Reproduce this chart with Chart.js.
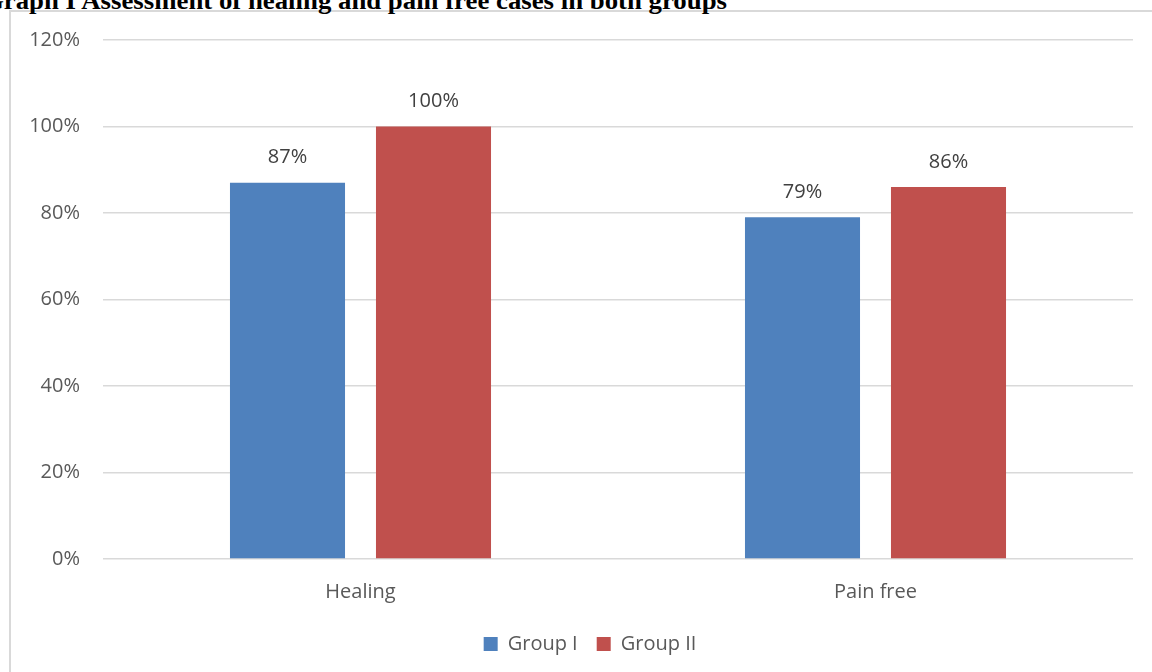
<!DOCTYPE html>
<html>
<head>
<meta charset="utf-8">
<script src="https://cdn.jsdelivr.net/npm/chart.js@4.4.1/dist/chart.umd.min.js"></script>
<style>
  html, body { margin: 0; padding: 0; background: #fff; overflow: hidden; }
  #frame { position: absolute; left: 9px; top: 10px; width: 1200px; height: 700px;
           border-left: 2px solid #d9d9d9; border-top: 2px solid #d9d9d9; }
  #title { position: absolute; left: -17px; top: -14px; white-space: nowrap; line-height: 1;
           font: bold 26px "Liberation Serif", "Times New Roman", serif; color: #000;
           transform-origin: 0 0; }
  #wrap { position: absolute; left: 0; top: 0; width: 1152px; height: 672px; }
</style>
</head>
<body>
<div id="frame"></div>
<div id="title">Graph I Assessment of healing and pain free cases in both groups</div>
<div id="wrap"><canvas id="barChart"></canvas></div>
<script>
// values (percent)
const categories = ['Healing', 'Pain free'];
const seriesNames = ['Group I', 'Group II'];
const groupI = [87, 79];
const groupII = [100, 86];
const yMax = 120;
const yStep = 20;

const FONT = '"Open Sans", sans-serif';

// stretch the title so it spans the same width as in the source
const title = document.getElementById('title');
const tw = title.getBoundingClientRect().width;
title.style.transform = 'scaleX(' + (744 / tw) + ')';

// draws the "87%" style labels above each bar
const barValueLabels = {
    id: 'barValueLabels',
    afterDatasetsDraw(chart) {
        const ctx = chart.ctx;
        ctx.save();
        ctx.font = '20px ' + FONT;
        ctx.fillStyle = '#404040';
        ctx.textAlign = 'center';
        ctx.textBaseline = 'middle';
        chart.data.datasets.forEach((ds, i) => {
            chart.getDatasetMeta(i).data.forEach((bar, j) => {
                ctx.fillText(ds.data[j] + '%', bar.x, bar.y - 25);
            });
        });
        ctx.restore();
    }
};

// legend in the source sits a bit right of the canvas centre
const legendShift = {
    id: 'legendShift',
    afterLayout(chart) {
        chart.legend.left += 13.5;
        chart.legend.right += 13.5;
    }
};

const ctx = document.getElementById('barChart').getContext('2d');
const barChart = new Chart(ctx, {
    type: 'bar',
    data: {
        labels: categories,
        datasets: [
            { label: seriesNames[0], data: groupI, backgroundColor: '#4F81BD' },
            { label: seriesNames[1], data: groupII, backgroundColor: '#C0504D' }
        ]
    },
    options: {
        responsive: true,
        maintainAspectRatio: false,
        animation: false,
        categoryPercentage: 0.567,
        barPercentage: 0.788,
        layout: { padding: { left: 20, right: 19, top: 40, bottom: 8 } },
        plugins: {
            legend: {
                position: 'bottom',
                labels: {
                    font: { family: FONT, size: 20 },
                    color: '#595959',
                    boxWidth: 14,
                    boxHeight: 14,
                    padding: 19
                }
            },
            tooltip: { enabled: false }
        },
        scales: {
            x: {
                grid: { display: false },
                border: { display: false },
                ticks: { font: { family: FONT, size: 20 }, color: '#595959', padding: 13 },
                afterFit(scale) { scale.height = 56; }
            },
            y: {
                min: 0,
                max: yMax,
                ticks: {
                    stepSize: yStep,
                    font: { family: FONT, size: 20 },
                    color: '#595959',
                    padding: 23,
                    callback: v => v + '%'
                },
                grid: { color: '#d9d9d9', lineWidth: 1.5, drawTicks: false },
                border: { display: false },
                afterFit(scale) { scale.width = 83; }
            }
        }
    },
    plugins: [barValueLabels, legendShift]
});
</script>
</body>
</html>
